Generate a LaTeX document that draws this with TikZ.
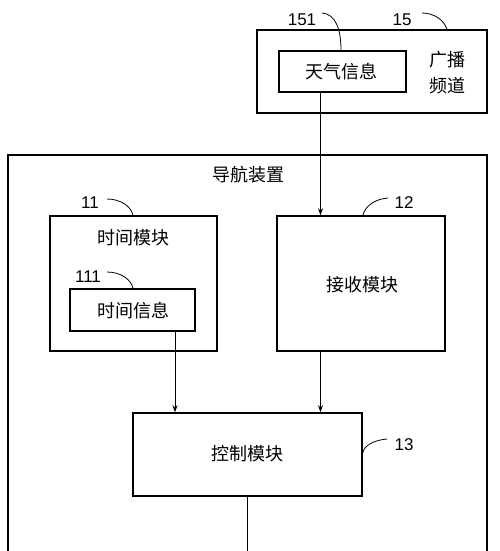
\documentclass[tikz,border=0pt]{standalone}
\usepackage{fontspec}
\newfontfamily\cjk{Noto Sans CJK SC}
\newfontfamily\numf{Liberation Sans}
\usetikzlibrary{arrows.meta}
\begin{document}
\begin{tikzpicture}[x=1pt,y=-1pt,
  box/.style={draw,line width=1.5pt,rectangle,inner sep=0pt},
  cn/.style={font=\cjk\fontsize{18}{26}\selectfont,inner sep=0pt,align=center},
  num/.style={font=\numf\fontsize{17}{18}\selectfont,inner sep=0pt},
  conn/.style={line width=0.8pt,-{Stealth[length=7pt,width=5pt]}},
  plain/.style={line width=0.8pt},
  lead/.style={line width=0.8pt}]
\useasboundingbox (0,0) rectangle (500,551);
\fill[white] (0,0) rectangle (500,551);
% navigation device outer frame
\draw[line width=1.5pt] (8,551) -- (8,155) -- (487,155) -- (487,551);
\node[cn] (navt) at (248,175) {导航装置};
% broadcast channel
\node[box,minimum width=230pt,minimum height=83pt] (bc) at (372,71.5) {};
\node[cn] (bct) at (447,72.5) {广播\\频道};
\node[box,minimum width=127pt,minimum height=41pt] (wx) at (342.5,71.5) {};
\node[cn] (wxt) at (341,72) {天气信息};
% time module
\node[box,minimum width=167pt,minimum height=135pt] (tm) at (133.5,283.5) {};
\node[cn] (tmt) at (133,238) {时间模块};
\node[box,minimum width=125pt,minimum height=42pt] (ti) at (132.5,310) {};
\node[cn] (tit) at (133,311) {时间信息};
% receive module
\node[box,minimum width=168pt,minimum height=135pt] (rx) at (361,283.5) {};
\node[cn] (rxt) at (362,285) {接收模块};
% control module
\node[box,minimum width=229pt,minimum height=83pt] (ct) at (247.5,454.5) {};
\node[cn] (ctt) at (247,454) {控制模块};
% connectors
\coordinate (xa) at (320.5,0);
\coordinate (xb) at (175,0);
\coordinate (xc) at (247,0);
\coordinate (bot) at (247,551);
\draw[conn] (wx.south -| xa) -- (rx.north -| xa);
\draw[conn] (ti.south -| xb) -- (ct.north -| xb);
\draw[conn] (rx.south -| xa) -- (ct.north -| xa);
\draw[plain] (ct.south -| xc) -- (bot);
% reference numerals
\node[num] (n151) at (302,20) {151};
\node[num] (n15) at (402,20) {15};
\node[num] (n11) at (90,203) {11};
\node[num] (n111) at (88,277) {111};
\node[num] (n12) at (404,203) {12};
\node[num] (n13) at (404,445) {13};
\coordinate (c151) at (322,13);
\coordinate (c15) at (422,13);
\coordinate (c11) at (107,199);
\coordinate (c111) at (107,272);
\coordinate (c12) at (388,198);
\coordinate (c13) at (387,439);
\draw[lead] (c151) .. controls (336,14) and (341,30) .. (wx.north -| 341,0);
\draw[lead] (c15) .. controls (434,13) and (444,20) .. (bc.north -| 447,0);
\draw[lead] (c11) .. controls (120,199) and (131,206) .. (tm.north -| 133,0);
\draw[lead] (c111) .. controls (120,272) and (131,279) .. (ti.north -| 133,0);
\draw[lead] (c12) .. controls (375,199) and (365,206) .. (rx.north -| 363,0);
\draw[lead] (c13) .. controls (375,440) and (364,445) .. (ct.east |- 0,453);
\end{tikzpicture}
\end{document}
